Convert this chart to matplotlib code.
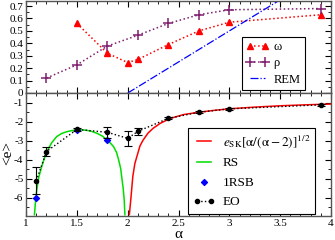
import numpy as np
import matplotlib
matplotlib.use('Agg')
import matplotlib.pyplot as plt
from matplotlib.ticker import MultipleLocator, FuncFormatter

plt.rcParams['font.family'] = ['Liberation Serif', 'DejaVu Serif']
plt.rcParams['mathtext.fontset'] = 'stix'
plt.rcParams['axes.unicode_minus'] = False
plt.rcParams['font.size'] = 8

# top panel
alpha_w = [1.5, 1.8, 2.0, 2.1, 2.4, 2.7, 3.0, 3.9]
omega = [0.56, 0.32, 0.245, 0.27, 0.39, 0.50, 0.57, 0.63]
alpha_r = [1.2, 1.5, 1.8, 2.1, 2.4, 2.7, 3.0, 3.9]
rho = [0.12, 0.227, 0.378, 0.465, 0.56, 0.63, 0.67, 0.68]
alpha_rem = [2.0, 4.0]
rem = [0.0, 1.0]

# bottom panel
alpha_sk = [2.016, 2.03, 2.05, 2.07, 2.09, 2.12, 2.15, 2.2, 2.25, 2.32, 2.42, 2.55, 2.7, 2.85, 3.0, 3.25, 3.5, 3.75, 4.0]
e_sk = [-6.87, -6.09, -4.87, -4.2, -3.83, -3.28, -2.98, -2.6, -2.35, -2.09, -1.83, -1.63, -1.51, -1.41, -1.33, -1.24, -1.17, -1.12, -1.08]
alpha_rs = [1.082, 1.092, 1.105, 1.125, 1.154, 1.18, 1.203, 1.25, 1.30, 1.35, 1.40, 1.45, 1.50, 1.55, 1.60, 1.65, 1.70, 1.75, 1.79, 1.83, 1.86, 1.89, 1.91, 1.93, 1.94, 1.955, 1.965, 1.972]
e_rs = [-6.88, -6.2, -5.57, -4.9, -4.35, -3.92, -3.57, -3.12, -2.79, -2.62, -2.53, -2.47, -2.44, -2.43, -2.46, -2.52, -2.62, -2.76, -2.93, -3.13, -3.31, -3.62, -4.0, -4.45, -4.87, -5.5, -6.09, -6.88]
alpha_1rsb = [1.1, 1.5, 1.8]
e_1rsb = [-6.0, -2.45, -2.96]
alpha_eo = [1.1, 1.2, 1.5, 1.8, 2.0, 2.1, 2.4, 2.7, 3.0, 3.9]
e_eo = [-5.1, -3.57, -2.41, -2.56, -2.88, -2.51, -1.83, -1.51, -1.33, -1.12]
err_eo = [0.72, 0.25, 0.1, 0.29, 0.4, 0.2, 0.05, 0.05, 0.05, 0.04]

fig = plt.figure(figsize=(3.35, 2.4), dpi=100)
ax1 = fig.add_axes([0.078, 0.6125, 0.91, 0.383])
ax2 = fig.add_axes([0.078, 0.1, 0.91, 0.5125])

ax1.plot(alpha_w, omega, ':', color='red', marker='^', ms=4.5, lw=1.1, label='ω')
ax1.plot(alpha_r, rho, ':', color='#7f1f6f', marker='+', ms=7, mew=1.1, lw=1.1, label='ρ')
ax1.plot(alpha_rem, rem, '-.', color='blue', lw=0.9, label='REM')
ax1.set_xlim(1, 4)
ax1.set_ylim(0, 0.74)
ax1.yaxis.set_major_locator(MultipleLocator(0.1))
ax1.yaxis.set_minor_locator(MultipleLocator(0.05))
ax1.yaxis.set_major_formatter(FuncFormatter(lambda v, p: '%g' % round(v, 2)))
ax1.tick_params(labelbottom=False)
leg1 = ax1.legend(loc='upper right', bbox_to_anchor=(0.935, 0.68), numpoints=2,
                  fancybox=False, edgecolor='black', framealpha=1, handlelength=1.8,
                  borderpad=0.35, labelspacing=0.35, handletextpad=0.4, fontsize=9)
leg1.get_frame().set_linewidth(0.8)

ax2.plot(alpha_sk, e_sk, '-', color='red', lw=1.1,
         label=r'$e_{\rm SK}[\mathrm{α}/(\mathrm{α}-2)]^{1/2}$')
ax2.plot(alpha_rs, e_rs, '-', color='#00dd00', lw=1.1, label='RS')
ax2.scatter(alpha_1rsb, e_1rsb, marker='D', s=9, color='blue', zorder=3, label='1RSB')
ax2.errorbar(alpha_eo, e_eo, yerr=err_eo, fmt='none', ecolor='black',
             elinewidth=0.8, capsize=3, capthick=0.8, zorder=4)
ax2.plot(alpha_eo, e_eo, ':', color='black', marker='o', ms=3, lw=1.0, label='EO', zorder=5)
ax2.set_xlim(1, 4)
ax2.set_ylim(-6.95, -0.5)
ax2.yaxis.set_major_locator(MultipleLocator(1))
ax2.yaxis.set_minor_locator(MultipleLocator(0.5))
ax2.set_xticks([1, 1.5, 2, 2.5, 3, 3.5, 4])
ax2.set_xticklabels(['1', '1.5', '2', '2.5', '3', '3.5', '4'])
ax2.set_xlabel('α', fontsize=11)
ax2.xaxis.set_label_coords(0.5, -0.1)
ax2.xaxis.label.set_va('top')
ax2.set_ylabel('<e>', fontsize=11)
ax2.yaxis.set_label_coords(-0.038, 0.51)
leg2 = ax2.legend(loc='upper right', bbox_to_anchor=(0.97, 0.77), numpoints=2, scatterpoints=1,
                  fancybox=False, edgecolor='black', framealpha=1, handlelength=1.6,
                  borderpad=0.4, labelspacing=0.55, handletextpad=0.6, fontsize=9.5)
leg2.get_frame().set_linewidth(0.8)

for ax in (ax1, ax2):
    ax.xaxis.set_minor_locator(MultipleLocator(0.1))
    ax.tick_params(which='both', direction='in', top=True, right=True, labelsize=8, pad=2)
    ax.tick_params(which='major', length=4)
    ax.tick_params(which='minor', length=2)
    for s in ax.spines.values():
        s.set_color('#555555')
        s.set_linewidth(1.0)

fig.savefig('out.png', dpi=100)
